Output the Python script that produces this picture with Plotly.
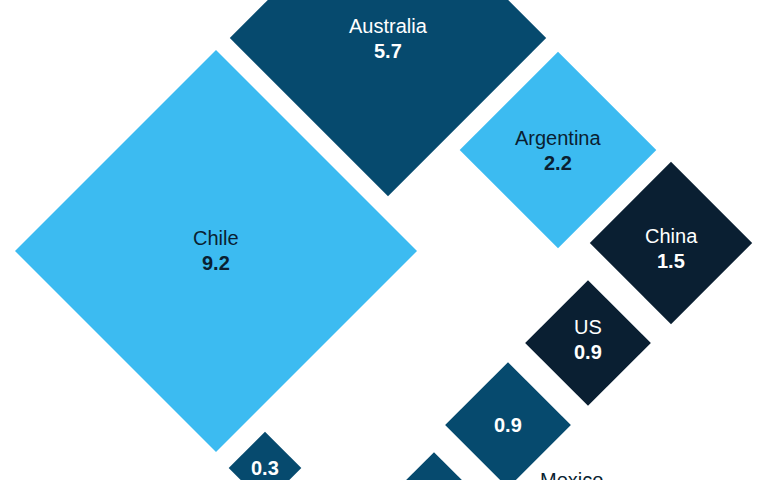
import math
import plotly.graph_objects as go

# ---- data ----
countries = ["Australia", "Chile", "Argentina", "China", "US", "Mexico", "", ""]
values = [5.7, 9.2, 2.2, 1.5, 0.9, 0.9, 0.3, 0.5]
show_name_inside = [True, True, True, True, True, False, False, False]
outside_labels = ["Mexico", "Zimbabwe"]

# ---- layout (pixel space positions of each diamond centre) ----
centers_x = [388, 216, 558, 671, 588, 508, 265, 434]
centers_y = [38, 251, 150, 243, 343, 425, 468, 499]
label_dy = [0, -1, 0, 5, -4, 0, 0, 0]
outside_pos = [(571, 480), (358, 485)]

LIGHT = "#3CBBF1"
MID = "#064A6E"
NAVY = "#0A1F32"
fills = [MID, LIGHT, LIGHT, NAVY, NAVY, MID, MID, MID]
text_colors = ["white", "#0A1F32", "#0A1F32", "white", "white", "white", "white", "white"]

# half-diagonal scales with sqrt(value) so area is proportional to value
K = 201 / math.sqrt(9.2)
FAM = "Liberation Sans, Arial, sans-serif"

fig = go.Figure()
for i, v in enumerate(values):
    d = K * math.sqrt(v)
    cx, cy = centers_x[i], centers_y[i]
    xs = [cx, cx + d, cx, cx - d, cx]
    ys = [cy - d, cy, cy + d, cy, cy - d]
    fig.add_trace(go.Scatter(x=xs, y=ys, mode="lines", fill="toself",
                             fillcolor=fills[i], line=dict(width=0),
                             hoverinfo="skip", showlegend=False))
    ly = cy + label_dy[i]
    if show_name_inside[i]:
        fig.add_annotation(x=cx, y=ly - 12, text=countries[i], showarrow=False,
                           font=dict(family=FAM, size=20, color=text_colors[i]))
        fig.add_annotation(x=cx, y=ly + 13, text="<b>%s</b>" % v, showarrow=False,
                           font=dict(family=FAM, size=20, color=text_colors[i]))
    elif cy + 5 < 480:
        fig.add_annotation(x=cx, y=ly, text="<b>%s</b>" % v, showarrow=False,
                           font=dict(family=FAM, size=20, color=text_colors[i]))

for name, (x, y) in zip(outside_labels, outside_pos):
    fig.add_annotation(x=x, y=y, text=name, showarrow=False,
                       font=dict(family=FAM, size=20, color="#0A1F32"))

fig.update_layout(
    width=767, height=480,
    margin=dict(l=0, r=0, t=0, b=0),
    paper_bgcolor="white", plot_bgcolor="white",
    xaxis=dict(range=[0, 767], visible=False, fixedrange=True),
    yaxis=dict(range=[480, 0], visible=False, fixedrange=True),
)
fig.write_html("out.html", config={"displayModeBar": False},
               post_script="document.body.style.margin='0';document.body.style.overflow='hidden';")
